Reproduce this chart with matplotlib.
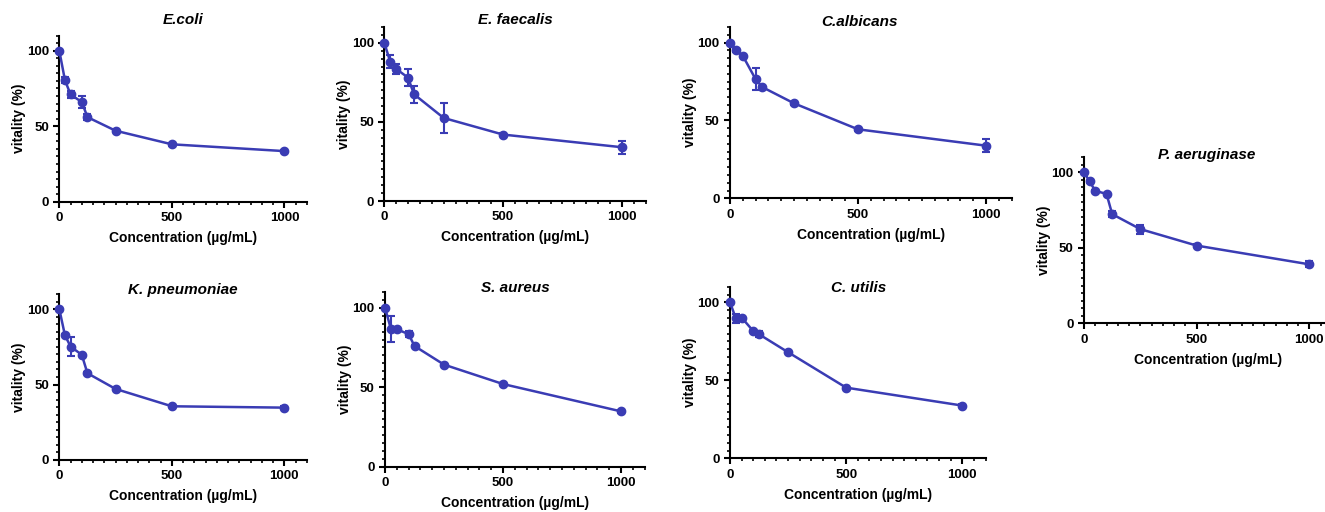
import numpy as np
import matplotlib
matplotlib.use("Agg")
import matplotlib.pyplot as plt
from matplotlib.ticker import MultipleLocator

plt.rcParams['font.family'] = ['Liberation Sans', 'DejaVu Sans']

# concentrations (ug/mL), shared by all strains
conc = [0, 25, 50, 100, 125, 250, 500, 1000]

# vitality (%) and error (SD) per strain
ecoli_v = [100, 80.5, 71, 66, 56, 47, 38, 33.5]
ecoli_e = [0, 2, 2, 4, 2, 0.8, 0.8, 0.8]

faecalis_v = [100, 88, 83.5, 78, 67.5, 52.5, 42, 34]
faecalis_e = [0, 4, 3, 5.5, 5.5, 9.5, 0.8, 4]

albicans_v = [100, 95, 91.5, 76.5, 71.5, 61, 44.3, 33.8]
albicans_e = [0, 0.8, 0.8, 7, 0.8, 0.8, 0.8, 4]

aerug_v = [100, 93.8, 87.6, 85.6, 72.2, 62.3, 51.4, 39]
aerug_e = [0, 0.8, 0.8, 0.8, 2, 3, 0.8, 2]

pneum_v = [100, 82.7, 75.2, 69.7, 57.5, 47.1, 35.6, 34.7]
pneum_e = [0, 0.8, 6.5, 0.8, 0.8, 0.8, 0.8, 0.8]

aureus_v = [100, 86.6, 86.4, 83.4, 75.9, 64.2, 52, 34.8]
aureus_e = [0, 8, 0.8, 2, 0.8, 0.8, 0.8, 0.8]

utilis_v = [100, 89.7, 90.2, 81.6, 79.5, 68, 45.3, 33.8]
utilis_e = [0, 3, 0.8, 0.8, 2, 0.8, 0.8, 0.8]

# panel placement in pixels: (x_left, x_right@1100, y_top@110, y_bottom@0),
# then the title centre (x, y)
W, H = 1325, 512
panels = [
    ("E.coli",         ecoli_v,    ecoli_e,    (59.3, 307.0, 35.6, 201.7),  (183, 20.5)),
    ("E. faecalis",    faecalis_v, faecalis_e, (384.3, 645.5, 27.0, 201.0), (515, 20)),
    ("C.albicans",     albicans_v, albicans_e, (730.0, 1011.6, 27.0, 198.3), (859, 21.5)),
    ("P. aeruginase",  aerug_v,    aerug_e,    (1084.0, 1331.9, 157.0, 323.3), (1207, 155)),
    ("K. pneumoniae",  pneum_v,    pneum_e,    (59.3, 306.8, 294.0, 460.0), (183, 290)),
    ("S. aureus",      aureus_v,   aureus_e,   (385.0, 644.6, 291.8, 466.7), (515, 288.5)),
    ("C. utilis",      utilis_v,   utilis_e,   (730.0, 985.5, 286.7, 458.3), (859, 288.5)),
]

blue = "#3a3cb4"

fig = plt.figure(figsize=(W / 100, H / 100), dpi=100)

for name, vals, errs, (xl, xr, yt, yb), (tx, ty) in panels:
    ax = fig.add_axes([xl / W, 1 - yb / H, (xr - xl) / W, (yb - yt) / H])
    ax.errorbar(conc, vals, yerr=errs, fmt="-o", color=blue, lw=1.8,
                markersize=6, elinewidth=1.5, capsize=3, capthick=1.5,
                clip_on=False, zorder=5)
    ax.set_xlim(0, 1100)
    ax.set_ylim(0, 110)
    ax.set_xticks([0, 500, 1000])
    ax.set_yticks([0, 50, 100])
    ax.xaxis.set_minor_locator(MultipleLocator(50))
    ax.yaxis.set_minor_locator(MultipleLocator(5))
    for s in ["top", "right"]:
        ax.spines[s].set_visible(False)
    for s in ["left", "bottom"]:
        ax.spines[s].set_linewidth(1.5)
    ax.tick_params(which="major", length=4, width=1.5, labelsize=9.5, pad=3.5)
    ax.tick_params(which="minor", length=2.5, width=1.2)
    for lab in ax.get_xticklabels() + ax.get_yticklabels():
        lab.set_fontweight("bold")
    ax.set_xlabel("Concentration (µg/mL)", fontsize=10, fontweight="bold", labelpad=5)
    ax.set_ylabel("vitality (%)", fontsize=10, fontweight="bold", labelpad=0.5)
    fig.text(tx / W, 1 - ty / H, name, fontsize=11, fontweight="bold",
             fontstyle="italic", ha="center", va="center")

fig.savefig("out.png", dpi=100)
